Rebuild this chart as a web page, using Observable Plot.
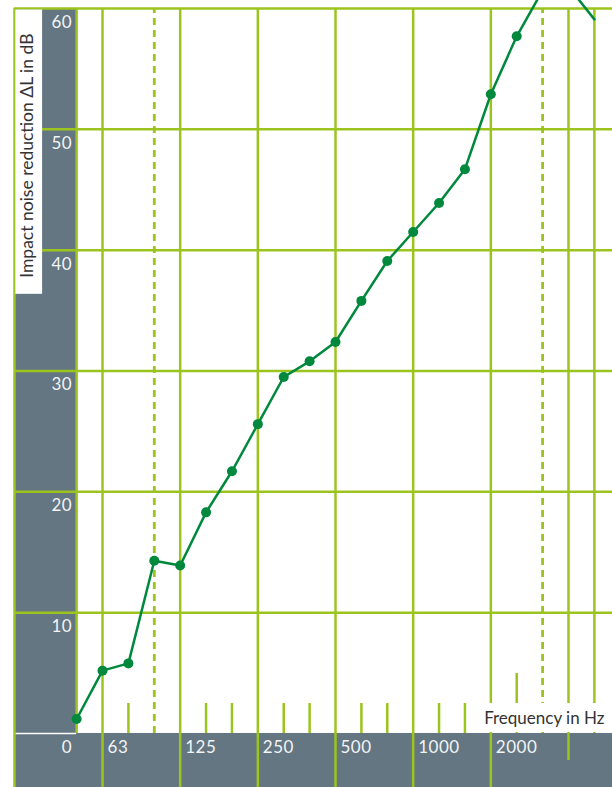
<!DOCTYPE html>
<html><head><meta charset="utf-8">
<script src="https://cdn.jsdelivr.net/npm/d3@7"></script>
<script src="https://cdn.jsdelivr.net/npm/@observablehq/plot@0.6"></script>
<style>
body{margin:0;background:#fff}
#chart svg{display:block}
#chart g.ticklbl text{letter-spacing:0.5px}
</style>
</head><body><div id="chart"></div>
<script>
// third-octave band centre frequencies (Hz)
const bands = ["50","63","80","100","125","160","200","250","315","400","500","630","800","1000","1250","1600","2000","2500","3150","4000","5000"];
// impact noise reduction ΔL (dB)
const deltaL = [1.2, 5.2, 5.8, 14.3, 13.9, 18.3, 21.7, 25.6, 29.5, 30.8, 32.4, 35.8, 39.1, 41.5, 43.9, 46.7, 52.9, 57.7, 61.5, 61.8, 59.1];
const majorBands = ["63","125","250","500","1000","2000"];
const minorBands = ["80","160","200","315","400","630","800","1250","1600"];
const dashedBands = ["100","3150"];
const yGrid = [10, 20, 30, 40, 50, 60];
const yLabels = [0, 10, 20, 30, 40, 50, 60];
const xTitle = "Frequency in Hz";
const yTitle = "Impact noise reduction \u0394L in dB";

const GREEN = "#9cc41e", GRAY = "#647682", LINE = "#00893d", LABEL = "#f2f4f5", DARK = "#333333";
const X0 = -2.4, X1 = 20.7, Y0 = -4.47, Y1 = 60.66, YMAX = 60;
const idx = b => bands.indexOf(b);
const data = bands.map((b, i) => ({band: b, i, value: deltaL[i]}));
const last = bands.length - 1;
const lw = 2.5;

const plot = Plot.plot({
  width: 612, height: 787,
  marginLeft: 14, marginRight: 0, marginTop: 0, marginBottom: 0,
  x: {type: "linear", domain: [X0, X1], axis: null},
  y: {domain: [Y0, Y1], axis: null},
  style: {fontFamily: "Lato, sans-serif", background: "#fff", overflow: "hidden"},
  marks: [
    // grey axis bands
    Plot.rect([0], {x1: X0, x2: 0, y1: 0, y2: YMAX, fill: GRAY}),
    Plot.rect([0], {x1: X0, x2: X1, y1: Y0, y2: 0, fill: GRAY}),
    Plot.ruleY([0], {x1: X0, x2: 0, stroke: "#fff", strokeWidth: 1.5}),
    // horizontal grid
    Plot.ruleY(yGrid, {x1: X0, x2: X1, stroke: GREEN, strokeWidth: lw}),
    // left edge and band border
    Plot.ruleX([X0], {y1: Y0, y2: YMAX, stroke: GREEN, strokeWidth: lw}),
    Plot.ruleX([0], {y1: 0, y2: YMAX, stroke: GREEN, strokeWidth: lw}),
    // octave lines
    Plot.ruleX(majorBands, {x: idx, y1: Y0, y2: YMAX, stroke: GREEN, strokeWidth: lw}),
    Plot.ruleX(["4000"], {x: idx, y1: -2.23, y2: YMAX, stroke: GREEN, strokeWidth: lw}),
    Plot.ruleX(["5000"], {x: idx, y1: 0, y2: YMAX, stroke: GREEN, strokeWidth: lw}),
    // third-octave ticks
    Plot.ruleX(minorBands, {x: idx, y1: 0, y2: 2.48, stroke: GREEN, strokeWidth: lw}),
    Plot.ruleX(["2500"], {x: idx, y1: 0, y2: 4.97, stroke: GREEN, strokeWidth: lw}),
    // dashed limits
    Plot.ruleX(dashedBands, {x: idx, y1: 0, y2: YMAX, stroke: GREEN, strokeWidth: 2.8, strokeDasharray: "7,5"}),
    // data
    Plot.line(data, {x: "i", y: "value", stroke: LINE, strokeWidth: 2.5}),
    Plot.dot(data.filter(d => d.i < last), {x: "i", y: "value", r: 5, fill: LINE}),
    // tick labels
    Plot.text(yLabels, {x: 0, y: d => d, dx: -4.5, dy: 14, textAnchor: "end", fill: LABEL, fontSize: 17, lineAnchor: "middle", className: "ticklbl"}),
    Plot.text(majorBands, {x: idx, y: 0, text: d => d, dx: 5, dy: 14, textAnchor: "start", fill: LABEL, fontSize: 17, lineAnchor: "middle", className: "ticklbl"}),
    // titles
    Plot.text([xTitle], {x: X1, y: 0, dx: -8, dy: -15, textAnchor: "end", lineAnchor: "middle", fill: DARK, fontSize: 17, className: "xtitle"}),
    Plot.text([yTitle], {frameAnchor: "top-left", rotate: -90, textAnchor: "end", lineAnchor: "middle", dx: 13, dy: 33, fill: DARK, fontSize: 17.5, className: "ytitle"})
  ]
});
document.getElementById("chart").appendChild(plot);

// white label boxes behind axis titles (inserted as siblings, in svg pixel space)
const sr = plot.getBoundingClientRect();
function boxBehind(cls, pad) {
  const node = plot.querySelector("g." + cls) || plot.querySelector("." + cls);
  const group = node.tagName === "g" ? node : node.parentNode;
  const t = group.querySelector("text");
  const r = t.getBoundingClientRect();
  const x0 = pad.left != null ? pad.left : r.left - sr.left - pad.l;
  const x1 = pad.right != null ? pad.right : r.right - sr.left + pad.r;
  const y0 = pad.top != null ? pad.top : r.top - sr.top - pad.t;
  const y1 = pad.bottom != null ? pad.bottom : r.bottom - sr.top + pad.b;
  const rect = document.createElementNS("http://www.w3.org/2000/svg", "rect");
  rect.setAttribute("x", x0); rect.setAttribute("y", y0);
  rect.setAttribute("width", x1 - x0); rect.setAttribute("height", y1 - y0);
  rect.setAttribute("fill", "#fff");
  group.parentNode.insertBefore(rect, group);
}
boxBehind("xtitle", {l: 4, right: 612, top: 703, bottom: 732});
boxBehind("ytitle", {left: 15.3, r: 5, top: 9.5, b: 16});
</script>
</body></html>
